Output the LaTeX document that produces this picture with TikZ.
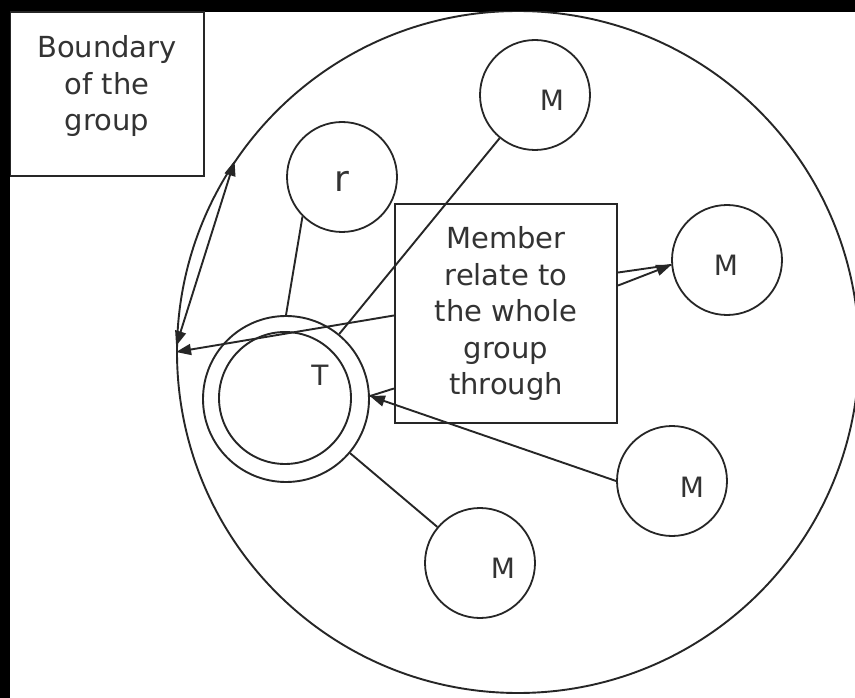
\documentclass[tikz,border=0pt]{standalone}
\usepackage{fontspec}
\setmainfont{DejaVu Sans}
\usetikzlibrary{positioning,arrows.meta}

\begin{document}
\begin{tikzpicture}[x=1pt,y=-1pt,>={Triangle[length=15pt,width=11pt]},
  line width=1.9pt,draw=black!85,
  every label/.style={font=\fontsize{28}{33}\selectfont,text=black!80},
  member/.style={circle,draw,line width=1.8pt,minimum size=110pt,inner sep=0pt},
  note/.style={rectangle,draw,line width=2.2pt,align=center,inner sep=0pt,
    text=black!80,font=\fontsize{29}{36.5}\selectfont}]
  \useasboundingbox (0,0) rectangle (855,698);
  \fill[black] (0,0) rectangle (855,698);
  \fill[white] (10,12) rectangle (855,698);
  \clip (10,12) rectangle (855,698);
  % the group and its members
  \node[circle,draw,minimum size=682pt,inner sep=0pt] (group) at (518,352) {};
  \node[circle,draw,minimum size=166pt,inner sep=0pt] (tout) at (286,399) {};
  \node[circle,draw,minimum size=132pt,inner sep=0pt,
    label={[xshift=35pt,yshift=23pt]center:T}] (tin) at (285,398) {};
  \node[member,label={[yshift=-4pt,font=\fontsize{36}{40}\selectfont]center:r}] (r) at (342,177) {};
  \node[member,label={[xshift=17pt,yshift=-5pt]center:M}] (mtop) at (535,95) {};
  \node[member,label={[xshift=-1pt,yshift=-5pt]center:M}] (m2) at (727,260) {};
  \node[member,label={[xshift=20pt,yshift=-6pt]center:M}] (m3) at (672,481) {};
  \node[member,label={[xshift=23pt,yshift=-5pt]center:M}] (m4) at (480,563) {};
  % notes
  \node[note,minimum width=194pt,minimum height=164pt,text depth=22pt] (bnd) at (107,94)
    {Boundary\\of the\\group};
  \node[note,minimum width=222pt,minimum height=219pt] (rel) at (506,313.5)
    {Member\\relate to\\the whole\\group\\through};
  % connectors
  \draw (r.-135) -- (tout.north);
  \draw (mtop) -- (tout);
  \draw (tout) -- (m4);
  \draw[->] (m3.west) -- (tout.2);
  \draw ([yshift=-75pt]rel.west) -- (tout.2);
  \draw[->] ([yshift=-2pt]rel.west) -- (group.180);
  \draw[<->] (group.179) -- (group.146);
  \draw ([yshift=41pt]rel.east) -- (m2.185);
  \draw[->] ([yshift=28pt]rel.east) -- (m2.185);
\end{tikzpicture}
\end{document}
